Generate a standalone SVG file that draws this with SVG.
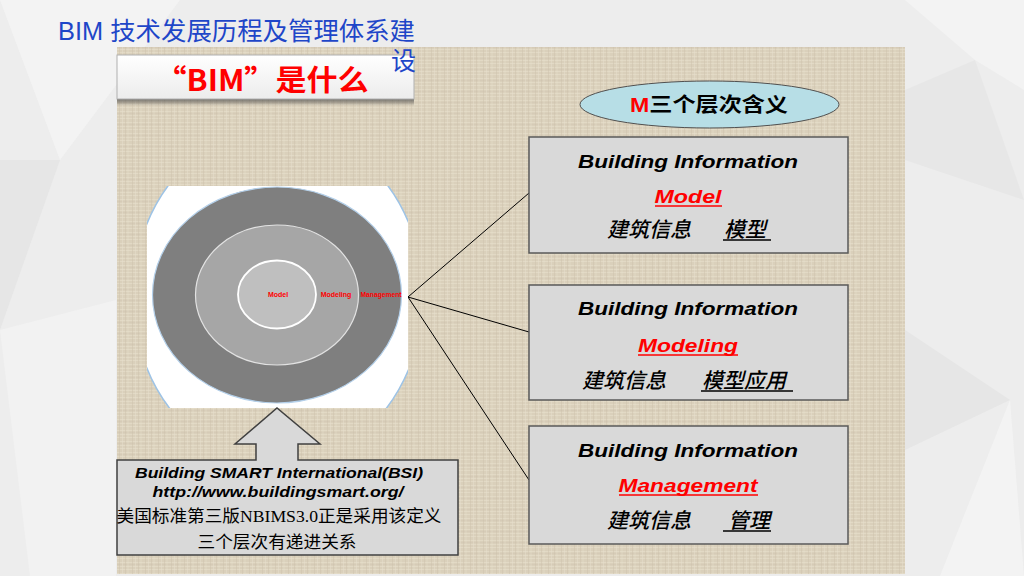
<svg xmlns="http://www.w3.org/2000/svg" width="1024" height="576" viewBox="0 0 1024 576">
<defs>
<style>
.en{font-family:"Liberation Sans",Arial,sans-serif;font-weight:bold;font-style:italic;text-anchor:middle}
.cn{font-family:"Liberation Sans","Noto Sans CJK SC",sans-serif;font-style:italic;font-weight:500;font-size:21px;fill:#000}
.red{fill:#ff0000}
.box{fill:#d9d9d9;stroke:#595959;stroke-width:1.5}
.conn{stroke:#000;stroke-width:1;fill:none}
.ring{font-family:"Liberation Sans",Arial,sans-serif;font-weight:bold;font-size:7px;fill:#ff0000;text-anchor:middle}
.ul{stroke:#000;stroke-width:1.5}
.ulr{stroke:#ff0000;stroke-width:1.5}
.ttl{font-family:"Liberation Sans","Noto Sans CJK SC",sans-serif;font-size:25px;fill:#1e46c8}
</style>
<pattern id="linen" width="13" height="11" patternUnits="userSpaceOnUse">
<rect width="13" height="11" fill="#dad0bb"/>
<path d="M0 1.5H13M0 5.5H13M0 8.5H13" stroke="#e7dfcc" stroke-width="0.7" opacity="0.8"/>
<path d="M0 3.5H13" stroke="#cdc3ad" stroke-width="0.5" opacity="0.7"/>
<path d="M2.5 0V11M8.5 0V11" stroke="#cbc0aa" stroke-width="0.6" opacity="0.7"/>
<path d="M5.5 0V11M11 0V11" stroke="#e8e0cd" stroke-width="0.6" opacity="0.8"/>
</pattern>
<linearGradient id="shadow" x1="0" y1="0" x2="0" y2="1">
<stop offset="0" stop-color="#444" stop-opacity="0.7"/>
<stop offset="1" stop-color="#444" stop-opacity="0"/>
</linearGradient>
<linearGradient id="hdr" x1="0" y1="0" x2="0" y2="1">
<stop offset="0" stop-color="#ffffff"/>
<stop offset="1" stop-color="#ececec"/>
</linearGradient>
<clipPath id="imgclip"><rect x="147" y="186" width="261" height="222"/></clipPath>
</defs>

<!-- slide background -->
<rect width="1024" height="576" fill="#ededed"/>
<polygon points="0,0 180,0 60,160" fill="#f3f3f3"/>
<polygon points="0,160 60,160 0,330" fill="#e6e6e6"/>
<polygon points="0,330 116,300 116,576 30,576" fill="#f2f2f2"/>
<polygon points="905,0 1024,0 1024,90 975,60" fill="#f3f3f3"/>
<polygon points="905,90 975,60 1024,200 905,160" fill="#e7e7e7"/>
<polygon points="905,330 1010,400 905,450" fill="#e6e6e6"/>
<polygon points="940,576 1010,400 1024,576" fill="#f3f3f3"/>

<!-- linen panel -->
<rect x="117" y="47" width="788" height="527" fill="url(#linen)"/>

<g id="header-box">
<rect x="117" y="99" width="297" height="7" fill="url(#shadow)"/>
<rect x="117" y="55" width="297" height="44" fill="url(#hdr)" stroke="#b0b0b0" stroke-width="1"/>
<text x="262" y="91" font-family="'Noto Sans CJK SC',sans-serif" font-weight="bold" font-size="29" fill="#ff0000" text-anchor="middle" textLength="213" lengthAdjust="spacingAndGlyphs">“BIM”是什么</text>
</g>

<g id="title">
<text class="ttl" x="58" y="40" textLength="357" lengthAdjust="spacingAndGlyphs">BIM 技术发展历程及管理体系建</text>
<text class="ttl" x="391" y="70">设</text>
</g>

<g id="connectors">
<line class="conn" x1="408" y1="297" x2="529" y2="193"/>
<line class="conn" x1="408" y1="297" x2="529" y2="332"/>
<line class="conn" x1="408" y1="297" x2="529" y2="480"/>
</g>

<g id="bullseye">
<g clip-path="url(#imgclip)">
<ellipse cx="278" cy="296" rx="145" ry="169" fill="#ffffff" stroke="#9dc3e6" stroke-width="1.5"/>
</g>
<ellipse cx="277" cy="295" rx="124.5" ry="108" fill="#7f7f7f" stroke="#b4d0ea" stroke-width="1.2"/>
<ellipse cx="277" cy="295" rx="81.5" ry="70" fill="#a6a6a6" stroke="#e2e2e2" stroke-width="1.2"/>
<ellipse cx="277" cy="294.5" rx="39" ry="34" fill="#bfbfbf" stroke="#ffffff" stroke-width="1.8"/>
<text class="ring" x="278" y="297">Model</text>
<text class="ring" x="336" y="297">Modeling</text>
<text class="ring" x="381" y="297" textLength="41" lengthAdjust="spacingAndGlyphs">Management</text>
</g>

<g id="bsi-callout">
<path d="M117,460 H256 V444 H235 L277,408 L320,444 H298 V460 H458 V555 H117 Z" fill="#d9d9d9" stroke="#404040" stroke-width="1.5"/>
<text class="en" x="279" y="478" font-size="15" fill="#000" textLength="288" lengthAdjust="spacingAndGlyphs">Building SMART International(BSI)</text>
<text class="en" x="278" y="497" font-size="15" fill="#000" textLength="251" lengthAdjust="spacingAndGlyphs">http://www.buildingsmart.org/</text>
<text x="279" y="522" font-family="'Liberation Serif','Noto Sans CJK SC',serif" font-size="17" fill="#000" text-anchor="middle" textLength="325" lengthAdjust="spacingAndGlyphs">美国标准第三版NBIMS3.0正是采用该定义</text>
<text x="277" y="548" font-family="'Liberation Serif','Noto Sans CJK SC',serif" font-size="17" fill="#000" text-anchor="middle" textLength="159" lengthAdjust="spacingAndGlyphs">三个层次有递进关系</text>
</g>

<g id="legend">
<ellipse cx="709.5" cy="104.5" rx="129.5" ry="23.5" fill="#b7dee6" stroke="#505050" stroke-width="1"/>
<text x="630" y="112" font-family="'Liberation Sans','Noto Sans CJK SC',sans-serif" font-weight="bold" font-size="20" fill="#000" textLength="158" lengthAdjust="spacingAndGlyphs"><tspan fill="#ff0000">M</tspan>三个层次含义</text>
</g>

<g id="box-model">
<rect class="box" x="529" y="137" width="319" height="116"/>
<text class="en" x="688" y="168" font-size="19" fill="#000" textLength="220" lengthAdjust="spacingAndGlyphs">Building Information</text>
<text class="en red" x="688" y="203" font-size="19" textLength="67" lengthAdjust="spacingAndGlyphs">Model</text>
<line class="ulr" x1="655" y1="206" x2="722" y2="206"/>
<text class="cn" x="607" y="237">建筑信息</text>
<text class="cn" x="724" y="237">模型</text>
<line class="ul" x1="723" y1="240" x2="771" y2="240"/>
</g>

<g id="box-modeling">
<rect class="box" x="529" y="285" width="319" height="115"/>
<text class="en" x="688" y="315" font-size="19" fill="#000" textLength="220" lengthAdjust="spacingAndGlyphs">Building Information</text>
<text class="en red" x="688" y="352" font-size="19" textLength="100" lengthAdjust="spacingAndGlyphs">Modeling</text>
<line class="ulr" x1="638" y1="355" x2="738" y2="355"/>
<text class="cn" x="582" y="388">建筑信息</text>
<text class="cn" x="702" y="388">模型应用</text>
<line class="ul" x1="701" y1="391" x2="793" y2="391"/>
</g>

<g id="box-management">
<rect class="box" x="529" y="426" width="319" height="118"/>
<text class="en" x="688" y="457" font-size="19" fill="#000" textLength="220" lengthAdjust="spacingAndGlyphs">Building Information</text>
<text class="en red" x="688" y="492" font-size="19" textLength="139" lengthAdjust="spacingAndGlyphs">Management</text>
<line class="ulr" x1="619" y1="495" x2="758" y2="495"/>
<text class="cn" x="607" y="528">建筑信息</text>
<text class="cn" x="728" y="528">管理</text>
<line class="ul" x1="723" y1="531" x2="771" y2="531"/>
</g>
</svg>
